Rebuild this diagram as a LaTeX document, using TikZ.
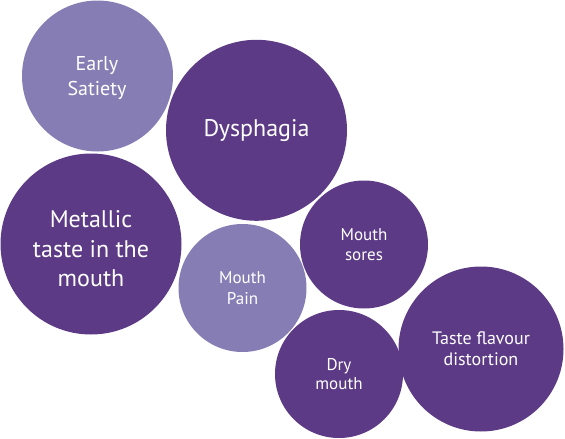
\documentclass[tikz,border=0pt]{standalone}
\usepackage{fontspec}
\setmainfont{PT Sans}
\definecolor{darkp}{HTML}{5C3A85}
\definecolor{lightp}{HTML}{877DB5}
\begin{document}
\begin{tikzpicture}[x=1pt,y=-1pt,
  bub/.style={circle,inner sep=0pt,text=white,align=center},
  dk/.style={bub,fill=darkp},
  lt/.style={bub,fill=lightp},
  lbl/.style={inner sep=0pt,text=white,align=center}]
\useasboundingbox (0,0) rectangle (565,439);
\node[lt,minimum size=151pt] (early) at (97.5,76) {};
\node[lbl,font=\fontsize{20}{25}\selectfont] (earlyt) at (97,78) {Early\\Satiety};
\node[dk,minimum size=181pt,font=\fontsize{24}{29}\selectfont] (dys) at (256.5,130.3) {Dysphagia};
\node[dk,minimum size=181pt] (metal) at (91,244) {};
\node[lbl,font=\fontsize{24}{29.5}\selectfont] (metalt) at (91,249) {Metallic\\taste in the\\mouth};
\node[lt,minimum size=128pt,font=\fontsize{17}{21}\selectfont] (pain) at (242.5,288) {Mouth\\Pain};
\node[dk,minimum size=128pt,font=\fontsize{17}{20}\selectfont] (sores) at (364,244.5) {Mouth\\sores};
\node[dk,minimum size=128pt,font=\fontsize{17}{18.5}\selectfont] (dry) at (339,374) {Dry\\mouth};
\node[dk,minimum size=165pt,font=\fontsize{18}{21}\selectfont] (taste) at (481,349) {Taste flavour\\distortion};
\end{tikzpicture}
\end{document}
